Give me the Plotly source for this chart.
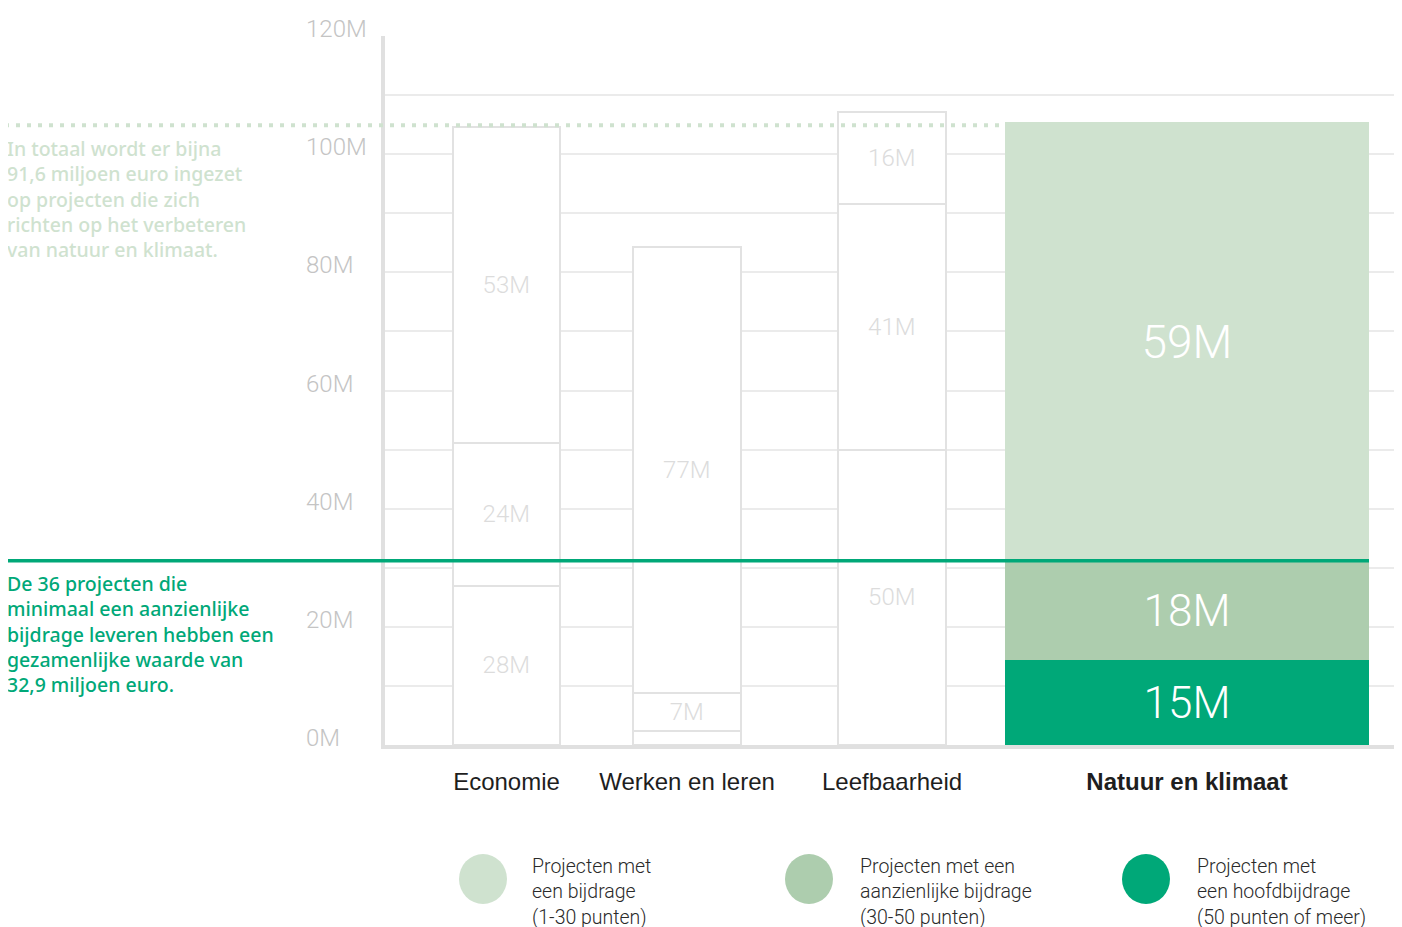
import plotly.graph_objects as go

# ---------------- data ----------------
categories = ["Economie", "Werken en leren", "Leefbaarheid", "Natuur en klimaat"]
# segment heights (M euro) as drawn, bottom -> top
hoofd_vals = [26.9, 2.4, 49.9, 14.4]      # hoofdbijdrage (bottom)
aanz_vals = [24.2, 6.4, 41.6, 16.8]       # aanzienlijke bijdrage (middle)
bijdrage_vals = [53.5, 75.5, 15.6, 74.3]  # bijdrage (top)
hoofd_labels = ["28M", "", "50M", "15M"]
aanz_labels = ["24M", "7M", "41M", "18M"]
bijdrage_labels = ["53M", "77M", "16M", "59M"]
tick_vals = [0, 20, 40, 60, 80, 100, 120]
tick_labels = ["0M", "20M", "40M", "60M", "80M", "100M", "120M"]
total_level = 104.9   # dotted reference line level as drawn
legend_texts = [
    "Projecten met<br>een bijdrage<br>(1-30 punten)",
    "Projecten met een<br>aanzienlijke bijdrage<br>(30-50 punten)",
    "Projecten met<br>een hoofdbijdrage<br>(50 punten of meer)",
]
note_top = ("In totaal wordt er bijna<br>91,6 miljoen euro ingezet<br>op projecten die zich"
            "<br>richten op het verbeteren<br>van natuur en klimaat.")
note_bottom = ("De 36 projecten die<br>minimaal een aanzienlijke<br>bijdrage leveren hebben een"
               "<br>gezamenlijke waarde van<br>32,9 miljoen euro.")

# ---------------- layout / style ----------------
W, H = 1402, 927
OFF = 8  # page body margin offset
# target screen positions of the plot area
S_LEFT, S_RIGHT, S_TOP, S_BOTTOM = 385, 1398, 36, 745
L = S_LEFT - OFF
T = S_TOP - OFF
R = W - (S_RIGHT - OFF)
B = H - (S_BOTTOM - OFF)
PW = S_RIGHT - S_LEFT
PH = S_BOTTOM - S_TOP
# bar centers / widths in screen-pixel units relative to plot left
x_pos = [121.5, 302, 507, 802]
x_width = [107, 108, 108, 364]

C_DARK = "#00a878"
C_MID = "#adcdae"
C_LIGHT = "#cfe2cf"
OUTLINE = "#e2e2e2"
SEG_TXT = "#dcdcdc"


def px_x(p):
    return (p - S_LEFT) / PW


def px_y(p):
    return (S_BOTTOM - p) / PH


fig = go.Figure()

series = [
    (hoofd_vals, hoofd_labels, C_DARK, 44),
    (aanz_vals, aanz_labels, C_MID, 44),
    (bijdrage_vals, bijdrage_labels, C_LIGHT, 46),
]
for vals, labels, col, big in series:
    n = len(categories)
    fig.add_trace(go.Bar(
        x=x_pos, y=vals, width=x_width,
        text=labels, textposition="inside", insidetextanchor="middle",
        textangle=0,
        textfont=dict(
            family="Roboto", weight=300,
            size=[24] * (n - 1) + [big],
            color=[SEG_TXT] * (n - 1) + ["white"],
        ),
        marker=dict(
            color=["white"] * (n - 1) + [col],
            line=dict(color=[OUTLINE] * (n - 1) + [col], width=[2.5] * (n - 1) + [0]),
        ),
        hoverinfo="skip", showlegend=False, cliponaxis=False,
    ))

shapes = []
# dotted total line
shapes.append(dict(type="line", xref="paper", yref="y",
                   x0=px_x(5), x1=px_x(1005), y0=total_level, y1=total_level,
                   line=dict(color=C_LIGHT, width=4, dash="4px,7px"), layer="above"))
# green line at top of significant contributions (Natuur)
green_level = hoofd_vals[3] + aanz_vals[3]
shapes.append(dict(type="line", xref="paper", yref="y",
                   x0=px_x(8), x1=px_x(1369), y0=green_level, y1=green_level,
                   line=dict(color=C_DARK, width=3.5), layer="above"))

# legend circles
leg_cx = [483, 809, 1146]
leg_cols = [C_LIGHT, C_MID, C_DARK]
leg_tx = [530, 858, 1195]
for cx, col in zip(leg_cx, leg_cols):
    shapes.append(dict(type="circle", xref="paper", yref="paper",
                       xsizemode="pixel", ysizemode="pixel",
                       xanchor=px_x(cx), yanchor=px_y(879),
                       x0=-24, x1=24, y0=-25, y1=25,
                       fillcolor=col, line=dict(width=0)))

annotations = []
# y tick labels (left-aligned)
for v, t in zip(tick_vals, tick_labels):
    annotations.append(dict(x=px_x(304), xref="paper", y=v, yref="y",
                            text=t, showarrow=False, xanchor="left", yanchor="middle",
                            yshift=7,
                            font=dict(family="Roboto", weight=300, size=24, color="#c4c4c4")))
# notes
annotations.append(dict(x=px_x(5), xref="paper", y=px_y(199.5), yref="paper",
                        text=note_top, showarrow=False, xanchor="left", yanchor="middle",
                        align="left",
                        font=dict(family="Noto Sans", weight=500, size=19.5, color=C_LIGHT)))
annotations.append(dict(x=px_x(5), xref="paper", y=px_y(633.6), yref="paper",
                        text=note_bottom, showarrow=False, xanchor="left", yanchor="middle",
                        align="left",
                        font=dict(family="Noto Sans", weight=500, size=19.5, color=C_DARK)))
# legend texts
for tx, t in zip(leg_tx, legend_texts):
    annotations.append(dict(x=px_x(tx), xref="paper", y=px_y(892), yref="paper",
                            text=t, showarrow=False, xanchor="left", yanchor="middle",
                            align="left",
                            font=dict(family="Roboto", weight=300, size=19.5, color="#2a2a2a")))

ticktext = [c if i < len(categories) - 1 else "<b>" + c + "</b>" for i, c in enumerate(categories)]

fig.update_layout(
    width=W, height=H,
    margin=dict(l=L, r=R, t=T, b=B, pad=0),
    paper_bgcolor="white", plot_bgcolor="white",
    barmode="stack", bargap=0,
    shapes=shapes, annotations=annotations,
    xaxis=dict(range=[0, PW], tickvals=x_pos, ticktext=ticktext,
               showgrid=False, zeroline=False, ticks="",
               showline=True, linecolor="#e0e0e0", linewidth=4,
               ticklabelstandoff=12,
               tickfont=dict(family="Liberation Sans", size=24, color="#1e1e1e"),
               fixedrange=True),
    yaxis=dict(range=[0, 120], dtick=10, showticklabels=False,
               showgrid=True, gridcolor="#ebebeb", gridwidth=1.5,
               zeroline=False, ticks="",
               showline=True, linecolor="#e0e0e0", linewidth=4,
               fixedrange=True),
    font=dict(family="Roboto"),
)

fig.write_html("out.html")
